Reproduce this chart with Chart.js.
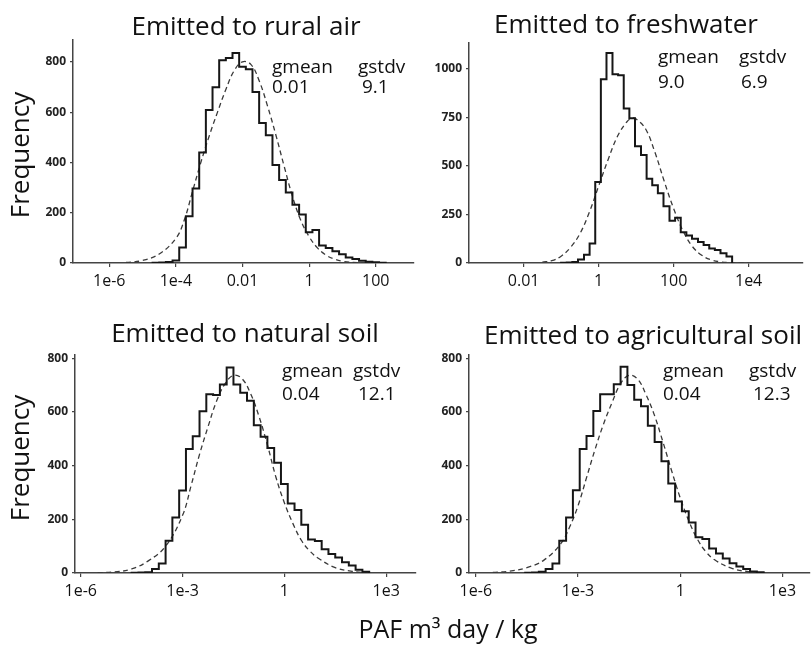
<!DOCTYPE html>
<html>
<head>
<meta charset="utf-8">
<script src="https://cdn.jsdelivr.net/npm/chart.js@4.4.1/dist/chart.umd.min.js"></script>
<style>
  body { margin: 0; width: 812px; height: 645px; background: #fff; position: relative; overflow: hidden;
         font-family: "Open Sans", sans-serif; color: #111; }
  canvas { position: absolute; }
  .t { position: absolute; white-space: nowrap; line-height: 1; }
  .title { font-size: 26px; transform: translateX(-50%); }
  .ann { font-size: 19px; }
  .ylab { font-size: 26px; width: 200px; text-align: center; transform: translate(-50%, -50%) rotate(-90deg); }
</style>
</head>
<body>
<canvas id="air"></canvas>
<canvas id="fw"></canvas>
<canvas id="nat"></canvas>
<canvas id="agr"></canvas>

<div class="t title" style="left:246px; top:12px;">Emitted to rural air</div>
<div class="t title" style="left:626px; top:10px;">Emitted to freshwater</div>
<div class="t title" style="left:245px; top:319px;">Emitted to natural soil</div>
<div class="t title" style="left:643px; top:321px;">Emitted to agricultural soil</div>

<div class="t ann" style="left:272px; top:57px;">gmean</div>
<div class="t ann" style="left:358px; top:57px;">gstdv</div>
<div class="t ann" style="left:272px; top:77px;">0.01</div>
<div class="t ann" style="left:362px; top:77px;">9.1</div>

<div class="t ann" style="left:658px; top:47px;">gmean</div>
<div class="t ann" style="left:739px; top:47px;">gstdv</div>
<div class="t ann" style="left:658px; top:72px;">9.0</div>
<div class="t ann" style="left:741px; top:72px;">6.9</div>

<div class="t ann" style="left:282px; top:361px;">gmean</div>
<div class="t ann" style="left:353px; top:361px;">gstdv</div>
<div class="t ann" style="left:282px; top:384px;">0.04</div>
<div class="t ann" style="left:358px; top:384px;">12.1</div>

<div class="t ann" style="left:663px; top:361px;">gmean</div>
<div class="t ann" style="left:749px; top:361px;">gstdv</div>
<div class="t ann" style="left:663px; top:384px;">0.04</div>
<div class="t ann" style="left:753px; top:384px;">12.3</div>

<div class="t ylab" style="left:19px; top:155px;">Frequency</div>
<div class="t ylab" style="left:19px; top:458px;">Frequency</div>
<div class="t" style="left:448px; top:616px; font-size:25px; transform:translateX(-50%);">PAF m³ day / kg</div>

<script>
// histogram bin edges are log10(PAF), counts are frequencies
const AIR_EDGES = [-4.7, -4.5, -4.3, -4.1, -3.9, -3.7, -3.5, -3.3, -3.1, -2.9, -2.7, -2.5, -2.3, -2.1, -1.9, -1.7, -1.5, -1.3,
  -1.1, -0.9, -0.7, -0.5, -0.3, -0.1, 0.1, 0.3, 0.5, 0.7, 0.9, 1.1, 1.3, 1.5, 1.7, 1.9, 2.1, 2.3];
const AIR_COUNTS = [1, 2, 4, 10, 62, 186, 296, 439, 608, 699, 806, 815, 835, 780, 770, 680, 557, 508,
  390, 330, 280, 232, 193, 122, 131, 70, 60, 47, 35, 22, 16, 9, 5, 3, 1];
const AIR_FIT_X = [-5.5, -5, -4.5, -4, -3.75, -3.5, -3.25, -3, -2.75, -2.5, -2.25, -2, -1.75, -1.5, -1.25, -1,
  -0.75, -0.5, -0.25, 0, 0.25, 0.5, 0.75, 1, 1.5, 2];
const AIR_FIT_Y = [2, 10, 36, 98, 170, 285, 400, 505, 600, 690, 765, 800, 790, 725, 625, 510,
  385, 265, 170, 105, 60, 32, 16, 7, 1, 0];
const AIR_X_TICKS = [-6, -4, -2, 0, 2];
const AIR_X_LABELS = ['1e-6', '1e-4', '0.01', '1', '100'];
const AIR_Y_TICKS = [0, 200, 400, 600, 800];

const FW_EDGES = [-1.0, -0.85, -0.70, -0.55, -0.39, -0.24, -0.09, 0.06, 0.21, 0.37, 0.52, 0.67, 0.82, 0.97, 1.13, 1.28,
  1.43, 1.58, 1.73, 1.89, 2.04, 2.19, 2.34, 2.49, 2.65, 2.80, 2.95, 3.10, 3.25, 3.41, 3.56];
const FW_COUNTS = [1, 2, 5, 18, 42, 100, 417, 945, 1079, 970, 965, 794, 744, 600, 555, 433,
  400, 358, 292, 217, 233, 158, 142, 125, 108, 92, 75, 67, 50, 33];
const FW_FIT_X = [-1.5, -1.25, -1, -0.75, -0.5, -0.25, 0, 0.25, 0.5, 0.75, 0.9, 1, 1.25, 1.5, 1.75, 2,
  2.25, 2.5, 2.75, 3, 3.25, 3.5, 4];
const FW_FIT_Y = [5, 12, 35, 80, 150, 260, 395, 530, 650, 725, 745, 740, 690, 570, 420, 280,
  165, 85, 40, 16, 6, 2, 0];
const FW_X_TICKS = [-2, 0, 2, 4];
const FW_X_LABELS = ['0.01', '1', '100', '1e4'];
const FW_Y_TICKS = [0, 250, 500, 750, 1000];

const NAT_EDGES = [-4.5, -4.3, -4.1, -3.9, -3.7, -3.5, -3.3, -3.1, -2.9, -2.7, -2.5, -2.3, -2.1, -1.9, -1.7, -1.5, -1.3,
  -1.1, -0.9, -0.7, -0.5, -0.3, -0.1, 0.1, 0.3, 0.5, 0.7, 0.9, 1.1, 1.3, 1.5, 1.7, 1.9, 2.1, 2.3, 2.5];
const NAT_COUNTS = [1, 2, 3, 15, 35, 120, 207, 308, 462, 510, 603, 666, 664, 703, 766, 703, 672,
  642, 551, 508, 466, 411, 332, 259, 235, 180, 125, 119, 89, 71, 58, 40, 28, 12, 5];
const NAT_FIT_X = [-5.5, -5, -4.5, -4, -3.5, -3, -2.75, -2.5, -2.25, -2, -1.75, -1.5, -1.25, -1, -0.75, -0.5,
  -0.25, 0, 0.25, 0.5, 0.75, 1, 1.5, 2, 2.5];
const NAT_FIT_Y = [1, 4, 15, 46, 100, 215, 325, 442, 545, 640, 705, 737, 725, 670, 585, 478,
  358, 262, 185, 122, 82, 55, 20, 6, 0];

const AGR_EDGES = [-4.55, -4.35, -4.15, -3.95, -3.75, -3.55, -3.35, -3.15, -2.95, -2.75, -2.55, -2.35, -2.15, -1.95,
  -1.75, -1.55, -1.35, -1.15, -0.95, -0.75, -0.55, -0.35, -0.15, 0.05, 0.25, 0.45, 0.65, 0.85, 1.05, 1.25,
  1.45, 1.65, 1.85, 2.05, 2.25, 2.45];
const AGR_COUNTS = [1, 2, 5, 15, 35, 120, 207, 308, 462, 510, 603, 666, 666, 703, 768, 700, 645,
  621, 548, 488, 416, 333, 266, 230, 188, 133, 127, 91, 73, 54, 36, 24, 15, 6, 3];
const AGR_FIT_X = [-5.5, -5, -4.5, -4, -3.5, -3.25, -3, -2.75, -2.5, -2.25, -2, -1.75, -1.5, -1.25, -1, -0.75,
  -0.5, -0.25, 0, 0.25, 0.5, 0.75, 1, 1.5, 2, 2.5];
const AGR_FIT_Y = [2, 7, 20, 48, 110, 170, 250, 355, 460, 555, 635, 705, 736, 722, 663, 585,
  485, 380, 280, 195, 127, 80, 50, 18, 5, 0];

const SOIL_X_TICKS = [-6, -3, 0, 3];
const SOIL_X_LABELS = ['1e-6', '1e-3', '1', '1e3'];
const SOIL_Y_TICKS = [0, 200, 400, 600, 800];

const AXIS_W = 70, AXIS_H = 40, PAD_T = 6, PAD_R = 8;

function histPoints(edges, counts) {
  const pts = [{x: edges[0], y: 0}];
  counts.forEach((c, i) => pts.push({x: edges[i], y: c}));
  pts.push({x: edges[edges.length - 1], y: 0});
  return pts;
}

function fitPoints(xs, ys) {
  return xs.map((x, i) => ({x: x, y: ys[i]}));
}

// area = [left, top, right, bottom] of the plot box on the page
function makePanel(id, area, xMin, xMax, yMax, hist, fit, xTicks, xLabels, yTicks) {
  const cv = document.getElementById(id);
  const w = area[2] - area[0] + AXIS_W + PAD_R;
  const h = area[3] - area[1] + PAD_T + AXIS_H;
  cv.width = Math.round(w);
  cv.height = Math.round(h);
  cv.style.width = Math.round(w) + 'px';
  cv.style.height = Math.round(h) + 'px';
  cv.style.left = (area[0] - AXIS_W) + 'px';
  cv.style.top = (area[1] - PAD_T) + 'px';

  new Chart(cv, {
    type: 'line',
    data: {
      datasets: [
        {
          data: hist,
          stepped: true,
          borderColor: '#161616',
          borderWidth: 2,
          pointRadius: 0,
          fill: false
        },
        {
          data: fit,
          borderColor: '#3a3a3a',
          borderWidth: 1.3,
          borderDash: [5, 3.5],
          tension: 0.4,
          pointRadius: 0,
          fill: false
        }
      ]
    },
    options: {
      responsive: false,
      animation: false,
      layout: { padding: { top: PAD_T, right: PAD_R, left: 0, bottom: 0 } },
      plugins: { legend: { display: false }, tooltip: { enabled: false } },
      scales: {
        x: {
          type: 'linear',
          min: xMin,
          max: xMax,
          afterFit: (s) => { s.height = AXIS_H; },
          afterBuildTicks: (s) => { s.ticks = xTicks.map(v => ({value: v})); },
          border: { display: true, color: '#444', width: 1.5 },
          grid: { drawOnChartArea: false, drawTicks: true, tickLength: 4, color: '#444', lineWidth: 1.2 },
          ticks: {
            autoSkip: false,
            maxRotation: 0,
            padding: 5,
            color: '#111',
            font: { family: 'Open Sans', size: 16 },
            callback: (v, i) => xLabels[i]
          }
        },
        y: {
          min: 0,
          max: yMax,
          afterFit: (s) => { s.width = AXIS_W; },
          afterBuildTicks: (s) => { s.ticks = yTicks.map(v => ({value: v})); },
          border: { display: true, color: '#444', width: 1.5 },
          grid: { drawOnChartArea: false, drawTicks: true, tickLength: 3, color: '#444', lineWidth: 1.2 },
          ticks: {
            padding: 4,
            color: '#222',
            font: { family: 'Open Sans', size: 12, weight: 'bold' },
            callback: (v) => String(v)
          }
        }
      }
    }
  });
}

makePanel('air', [72.7, 35, 414, 263], -7.09, 3.15, 886,
  histPoints(AIR_EDGES, AIR_COUNTS), fitPoints(AIR_FIT_X, AIR_FIT_Y), AIR_X_TICKS, AIR_X_LABELS, AIR_Y_TICKS);
makePanel('fw', [468.7, 38, 802.7, 263.3], -3.456, 5.45, 1130,
  histPoints(FW_EDGES, FW_COUNTS), fitPoints(FW_FIT_X, FW_FIT_Y), FW_X_TICKS, FW_X_LABELS, FW_Y_TICKS);
makePanel('nat', [75, 350, 416, 572.7], -6.17, 3.88, 812,
  histPoints(NAT_EDGES, NAT_COUNTS), fitPoints(NAT_FIT_X, NAT_FIT_Y), SOIL_X_TICKS, SOIL_X_LABELS, SOIL_Y_TICKS);
makePanel('agr', [468.7, 350, 810, 573.3], -6.2, 3.81, 811,
  histPoints(AGR_EDGES, AGR_COUNTS), fitPoints(AGR_FIT_X, AGR_FIT_Y), SOIL_X_TICKS, SOIL_X_LABELS, SOIL_Y_TICKS);
</script>
</body>
</html>
